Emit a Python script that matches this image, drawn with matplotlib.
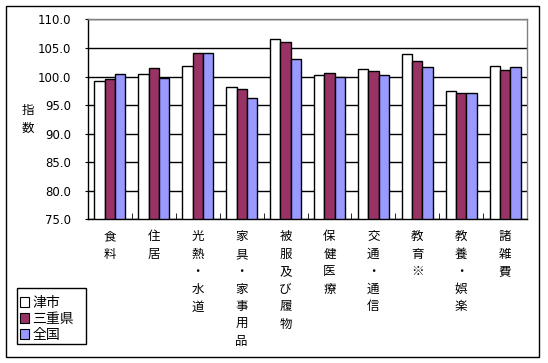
import numpy as np
import matplotlib
matplotlib.use("Agg")
import matplotlib.pyplot as plt
from matplotlib.patches import Rectangle

plt.rcParams['font.family'] = ['Noto Sans CJK JP', 'DejaVu Sans']

# カテゴリ
categories = ["食料", "住居", "光熱・水道", "家具・家事用品", "被服及び履物",
              "保健医療", "交通・通信", "教育※", "教養・娯楽", "諸雑費"]
series_names = ["津市", "三重県", "全国"]
tsu = [99.2, 100.4, 101.8, 98.2, 106.5, 100.2, 101.4, 103.9, 97.5, 101.8]
mie = [99.6, 101.5, 104.1, 97.9, 106.0, 100.6, 101.0, 102.8, 97.2, 101.1]
zenkoku = [100.4, 99.8, 104.1, 96.2, 103.0, 99.9, 100.2, 101.7, 97.2, 101.7]
y_ticks = [75.0, 80.0, 85.0, 90.0, 95.0, 100.0, 105.0, 110.0]

colors = ["#FFFFFF", "#993366", "#9999FF"]

fig = plt.figure(figsize=(5.48, 3.63), dpi=100)
ax = fig.add_axes([0.1606, 0.3959, 0.8011, 0.5504])

x = np.arange(len(categories))
w = 0.235
for i, (vals, c) in enumerate(zip([tsu, mie, zenkoku], colors)):
    ax.bar(x + (i - 1) * w, np.array(vals) - 75.0, bottom=75.0, width=w,
           color=c, edgecolor="black", linewidth=1.0, zorder=3)

ax.set_xlim(-0.5, len(categories) - 0.5)
ax.set_ylim(75, 110)
ax.set_yticks(y_ticks)
ax.set_yticklabels([f"{v:.1f}" for v in y_ticks], fontsize=8.5, family='DejaVu Sans')
ax.yaxis.grid(True, color="black", linewidth=1.0, zorder=0)
ax.set_axisbelow(True)

# 縦書きラベル
ax.set_xticks(x)
ax.set_xticklabels(["\n".join(c) for c in categories], fontsize=9,
                   linespacing=1.45, va="top")
ax.tick_params(axis="x", which="major", length=0, pad=8)
ax.set_xticks(np.arange(-0.5, len(categories)), minor=True)
ax.tick_params(axis="x", which="minor", direction="in", length=4, color="black")
ax.tick_params(axis="y", direction="out", length=2, pad=10)

for s in ["left", "bottom"]:
    ax.spines[s].set_color("black")
    ax.spines[s].set_linewidth(1.0)
for s in ["top", "right"]:
    ax.spines[s].set_color("#808080")
    ax.spines[s].set_linewidth(1.0)

fig.text(0.051, 0.6705, "指\n数", fontsize=9, ha="center", va="center", linespacing=1.45)

# 凡例 (枠は別に描く)
handles = [Rectangle((0, 0), 1, 1, facecolor=c, edgecolor="black", linewidth=0.8) for c in colors]
leg = fig.legend(handles, series_names, loc="lower left", bbox_to_anchor=(0.036, 0.058),
                 fontsize=10, frameon=False, handlelength=0.7, handleheight=0.7,
                 handletextpad=0.2, borderpad=0.0, labelspacing=0.15, borderaxespad=0)
fig.patches.append(Rectangle((17 / 548, 1 - 344 / 363), 69 / 548, 56 / 363,
                             transform=fig.transFigure, fill=False,
                             edgecolor="black", linewidth=1.0))

fig.patches.append(Rectangle((0.011, 0.017), 0.973, 0.966, transform=fig.transFigure,
                             fill=False, edgecolor="black", linewidth=1.0))

fig.savefig("out.png", dpi=100)
